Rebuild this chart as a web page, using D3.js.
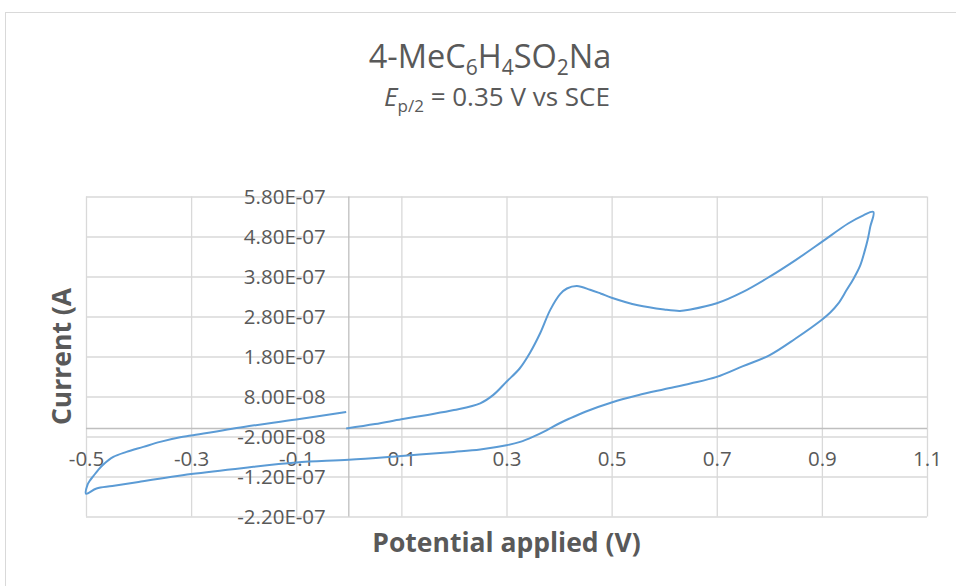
<!DOCTYPE html>
<html>
<head>
<meta charset="utf-8">
<script src="https://cdn.jsdelivr.net/npm/d3@7"></script>
<style>
  body { margin: 0; background: #fff; }
  text { font-family: "Open Sans", Lato, sans-serif; fill: #595959; }
</style>
</head>
<body>
<script>
const w = 956;
const h = 586;

// cyclic voltammogram: start at 0 V, up to 1.0 V, back to -0.5 V, up to 0 V
const potential = [
    -0.005, 0.05, 0.10, 0.15, 0.20, 0.25, 0.275, 0.30, 0.325, 0.345, 0.364, 0.383, 0.402, 0.415, 0.434, 0.459,
    0.48, 0.50, 0.55, 0.60, 0.63, 0.65, 0.70, 0.75, 0.80, 0.85, 0.90, 0.95, 0.979, 0.998,
    0.992, 0.987, 0.981, 0.973, 0.96, 0.947, 0.931, 0.916, 0.90, 0.85, 0.80, 0.75, 0.70, 0.65, 0.60, 0.55,
    0.50, 0.45, 0.42, 0.40, 0.377, 0.35, 0.326, 0.30, 0.25, 0.20, 0.10, 0.00, -0.10, -0.20, -0.30, -0.40,
    -0.45, -0.48, -0.50,
    -0.4975, -0.492, -0.486, -0.477, -0.467, -0.448, -0.423, -0.391, -0.359, -0.321, -0.30, -0.20, -0.10, -0.005
];
const current = [
    0.0, 1.1e-8, 2.3e-8, 3.4e-8, 4.6e-8, 6.3e-8, 8.4e-8, 1.17e-7, 1.5e-7, 1.9e-7, 2.38e-7, 2.96e-7, 3.36e-7, 3.50e-7, 3.56e-7, 3.47e-7,
    3.37e-7, 3.27e-7, 3.08e-7, 2.975e-7, 2.94e-7, 2.975e-7, 3.13e-7, 3.415e-7, 3.79e-7, 4.21e-7, 4.665e-7, 5.125e-7, 5.33e-7, 5.415e-7,
    5.04e-7, 4.71e-7, 4.415e-7, 4.08e-7, 3.74e-7, 3.46e-7, 3.12e-7, 2.9e-7, 2.72e-7, 2.25e-7, 1.83e-7, 1.56e-7, 1.29e-7, 1.125e-7, 9.8e-8, 8.3e-8,
    6.5e-8, 4.2e-8, 2.5e-8, 1.25e-8, -4e-9, -2.1e-8, -3.35e-8, -4.2e-8, -5.25e-8, -5.85e-8, -6.85e-8, -7.8e-8, -8.5e-8, -9.85e-8, -1.14e-7, -1.335e-7,
    -1.44e-7, -1.5e-7, -1.63e-7,
    -1.42e-7, -1.29e-7, -1.19e-7, -1.04e-7, -9e-8, -7.1e-8, -5.85e-8, -4.6e-8, -3.35e-8, -2.2e-8, -1.75e-8, 4e-9, 2.25e-8, 4.15e-8
];

const xTicks = [-0.5, -0.3, -0.1, 0.1, 0.3, 0.5, 0.7, 0.9, 1.1];
const xTickLabels = ["-0.5", "-0.3", "-0.1", "0.1", "0.3", "0.5", "0.7", "0.9", "1.1"];
const yTicks = [-2.2e-7, -1.2e-7, -2e-8, 8e-8, 1.8e-7, 2.8e-7, 3.8e-7, 4.8e-7, 5.8e-7];
const yTickLabels = ["-2.20E-07", "-1.20E-07", "-2.00E-08", "8.00E-08", "1.80E-07", "2.80E-07", "3.80E-07", "4.80E-07", "5.80E-07"];

const data = potential.map((e, i) => ({ e: e, i: current[i] }));

const svg = d3.select("body")
    .append("svg")
    .attr("width", w)
    .attr("height", h);

svg.append("rect")
    .attr("x", 5.5)
    .attr("y", 12.5)
    .attr("width", 970)
    .attr("height", 600)
    .attr("fill", "#fff")
    .attr("stroke", "#d9d9d9");

const plot = { left: 86, right: 927, top: 196.5, bottom: 516.5 };

const xScale = d3.scaleLinear()
    .domain([-0.5, 1.1])
    .range([plot.left, plot.right]);

const yScale = d3.scaleLinear()
    .domain([-2.2e-7, 5.8e-7])
    .range([plot.bottom, plot.top]);

// gridlines
svg.append("g")
    .attr("transform", "translate(0, " + plot.bottom + ")")
    .call(d3.axisBottom(xScale).tickValues(xTicks).tickSize(-(plot.bottom - plot.top)).tickFormat(""))
    .call(g => g.select(".domain").remove())
    .call(g => g.selectAll("line").attr("stroke", "#d9d9d9").attr("stroke-width", 1.3));

svg.append("g")
    .attr("transform", "translate(" + plot.left + ", 0)")
    .call(d3.axisLeft(yScale).tickValues(yTicks).tickSize(-(plot.right - plot.left)).tickFormat(""))
    .call(g => g.select(".domain").remove())
    .call(g => g.selectAll("line").attr("stroke", "#d9d9d9").attr("stroke-width", 1.3));

// axes crossing at zero
svg.append("line")
    .attr("x1", plot.left).attr("x2", plot.right)
    .attr("y1", yScale(0)).attr("y2", yScale(0))
    .attr("stroke", "#bfbfbf").attr("stroke-width", 1.5);

svg.append("line")
    .attr("x1", xScale(0)).attr("x2", xScale(0))
    .attr("y1", plot.top).attr("y2", plot.bottom)
    .attr("stroke", "#bfbfbf").attr("stroke-width", 1.3);

const xAxis = d3.axisBottom(xScale)
    .tickValues(xTicks)
    .tickSize(0)
    .tickPadding(23)
    .tickFormat((d, i) => xTickLabels[i]);

const yAxis = d3.axisLeft(yScale)
    .tickValues(yTicks)
    .tickSize(0)
    .tickPadding(23)
    .tickFormat((d, i) => yTickLabels[i]);

svg.append("g")
    .attr("id", "x-axis")
    .attr("transform", "translate(0, " + yScale(0) + ")")
    .call(xAxis)
    .call(g => g.select(".domain").remove())
    .selectAll("text")
    .attr("font-family", null)
    .attr("font-size", 20.5)
    .attr("fill", "#595959");

svg.append("g")
    .attr("id", "y-axis")
    .attr("transform", "translate(" + xScale(0) + ", 0)")
    .call(yAxis)
    .call(g => g.select(".domain").remove())
    .selectAll("text")
    .attr("font-family", null)
    .attr("font-size", 20.5)
    .attr("fill", "#595959");

const line = d3.line()
    .x(d => xScale(d.e))
    .y(d => yScale(d.i))
    .curve(d3.curveCatmullRom.alpha(0.5));

svg.append("path")
    .datum(data)
    .attr("d", line)
    .attr("fill", "none")
    .attr("stroke", "#5b9bd5")
    .attr("stroke-width", 2);

// titles
const title = svg.append("text")
    .attr("x", 490)
    .attr("y", 68)
    .attr("text-anchor", "middle")
    .attr("font-size", 32.5);
[["4-MeC", false], ["6", true], ["H", false], ["4", true], ["SO", false], ["2", true], ["Na", false]]
    .forEach((p, k) => {
        const t = title.append("tspan").text(p[0]);
        if (p[1]) t.attr("font-size", 21).attr("dy", 7);
        else if (k > 0) t.attr("dy", -7);
    });

const sub = svg.append("text")
    .attr("x", 497)
    .attr("y", 106)
    .attr("text-anchor", "middle")
    .attr("font-size", 26);
sub.append("tspan").attr("font-style", "italic").text("E");
sub.append("tspan").attr("font-size", 17).attr("dy", 6).text("p/2");
sub.append("tspan").attr("dy", -6).text(" = 0.35 V vs SCE");

svg.append("text")
    .attr("x", (plot.left + plot.right) / 2)
    .attr("y", 552)
    .attr("text-anchor", "middle")
    .attr("font-size", 26.5)
    .attr("font-weight", "bold")
    .text("Potential applied (V)");

svg.append("text")
    .attr("transform", "translate(71, " + (plot.top + plot.bottom) / 2 + ") rotate(-90)")
    .attr("text-anchor", "middle")
    .attr("font-size", 26.5)
    .attr("font-weight", "bold")
    .text("Current (A");
</script>
</body>
</html>
